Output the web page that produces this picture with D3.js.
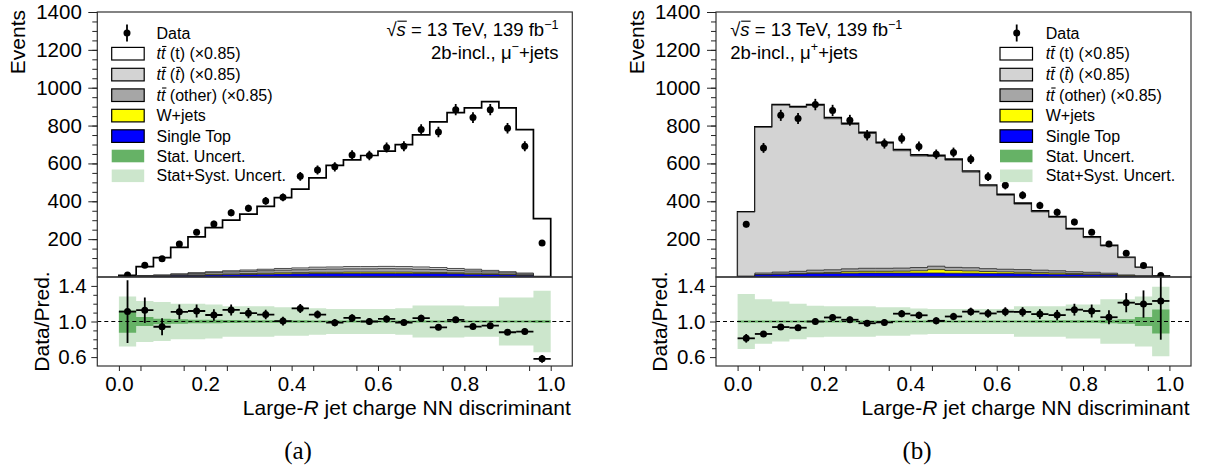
<!DOCTYPE html>
<html>
<head>
<meta charset="utf-8">
<script src="https://cdn.jsdelivr.net/npm/d3@7"></script>
<style>
  html, body { margin: 0; padding: 0; background: #fff; }
  svg text { font-family: "Liberation Sans", Arial, Helvetica, sans-serif; fill: #000; }
  svg text.caption { font-family: "Liberation Serif", "Times New Roman", serif; }
</style>
</head>
<body>
<svg id="chart" width="1206" height="469"></svg>
<script>
// Binning of the large-R jet charge NN discriminant
const binEdges = [0.00, 0.04, 0.08, 0.12, 0.16, 0.20, 0.24, 0.28, 0.32, 0.36, 0.40, 0.44, 0.48,
                  0.52, 0.56, 0.60, 0.64, 0.68, 0.72, 0.76, 0.80, 0.84, 0.88, 0.92, 0.96, 1.00];

const xTickValues = [0.0, 0.2, 0.4, 0.6, 0.8, 1.0];
const eventTickValues = [200, 400, 600, 800, 1000, 1200, 1400];
const ratioTickValues = [0.6, 1.0, 1.4];

// ---- mu- + jets region ----
const dataMuMinus       = [10, 62, 96, 174, 237, 280, 340, 363, 402, 421, 532, 565, 582, 644, 642, 684, 691, 779, 766, 884, 842, 884, 786, 691, 179];
const ttTopMuMinus      = [5, 47, 91, 140, 189, 233, 268, 295, 332, 374, 416, 472, 537, 564, 587, 609, 644, 698, 770, 823, 852, 892, 866, 758, 304];
const ttAntitopMuMinus  = [1, 1, 2, 3, 4, 5, 6, 7, 8, 9, 10, 11, 11, 12, 12, 12, 12, 12, 11, 10, 9, 8, 6, 5, 1];
const ttOtherMuMinus    = [2, 3, 4, 6, 8, 9, 11, 12, 13, 14, 15, 16, 17, 17, 17, 18, 17, 16, 15, 13, 12, 10, 8, 6, 2];
const wjetsMuMinus      = [0, 1, 1, 2, 3, 4, 4, 5, 5, 6, 6, 7, 7, 7, 7, 7, 7, 6, 6, 5, 5, 4, 3, 2, 0];
const singleTopMuMinus  = [1, 3, 4, 6, 8, 10, 12, 13, 15, 16, 17, 18, 18, 19, 19, 19, 19, 19, 18, 17, 15, 13, 11, 8, 1];
const statUncMuMinus    = [0.125, 0.05, 0.03, 0.025, 0.02, 0.02, 0.018, 0.015, 0.015, 0.014, 0.013, 0.012, 0.012, 0.012, 0.012, 0.012, 0.012, 0.012, 0.012, 0.012, 0.012, 0.012, 0.012, 0.012, 0.015];
const totUncMuMinus     = [0.28, 0.23, 0.22, 0.20, 0.20, 0.19, 0.17, 0.17, 0.17, 0.16, 0.16, 0.15, 0.14, 0.14, 0.14, 0.14, 0.15, 0.18, 0.18, 0.18, 0.17, 0.17, 0.27, 0.27, 0.345];

// ---- mu+ + jets region ----
const dataMuPlus        = [279, 682, 854, 837, 911, 880, 828, 749, 705, 732, 690, 648, 658, 622, 530, 485, 432, 378, 342, 290, 237, 175, 126, 61, 8];
const ttTopMuPlus       = [1, 2, 3, 4, 5, 6, 6, 6, 6, 6, 6, 6, 6, 6, 5, 5, 5, 5, 4, 4, 4, 3, 2, 1, 0];
const ttAntitopMuPlus   = [338, 770, 882, 866, 870, 798, 763, 712, 660, 620, 589, 580, 566, 505, 437, 391, 346, 308, 282, 224, 183, 144, 91, 43, 4.5];
const ttOtherMuPlus     = [3, 8, 10, 11, 14, 14, 15, 16, 16, 16, 17, 18, 17, 17, 15, 14, 14, 13, 12, 10, 9, 7, 4, 3, 1];
const wjetsMuPlus       = [0, 1, 2, 3, 4, 5, 8, 9, 9, 10, 12, 18, 14, 12, 10, 9, 8, 7, 6, 5, 4, 3, 2, 1, 0];
const singleTopMuPlus   = [2, 12, 14, 16, 18, 19, 20, 21, 21, 21, 21, 21, 20, 20, 19, 18, 17, 16, 15, 13, 12, 10, 5, 3, 1];
const statUncMuPlus     = [0.012, 0.01, 0.01, 0.01, 0.01, 0.01, 0.01, 0.01, 0.01, 0.01, 0.01, 0.01, 0.01, 0.01, 0.012, 0.012, 0.012, 0.013, 0.013, 0.015, 0.015, 0.02, 0.025, 0.05, 0.135];
const totUncMuPlus      = [0.31, 0.25, 0.225, 0.20, 0.177, 0.17, 0.17, 0.17, 0.16, 0.16, 0.145, 0.14, 0.14, 0.14, 0.14, 0.14, 0.17, 0.17, 0.17, 0.19, 0.19, 0.25, 0.25, 0.28, 0.39];

// Stack order, bottom to top
const stackColors = ["#0000ff", "#ffff00", "#a6a6a6", "#d3d3d3", "#ffffff"];
const statColor = "#66b266";
const totColor = "#cce6cc";

const svg = d3.select("#chart");

// Frame geometry shared by both panels (shifted horizontally for the second one)
const F = { x0: 97.3, x1: 572.3, top: 12, mid: 277, bot: 366 };
const FONT_TICK = 20.5, FONT_TITLE = 21, FONT_LEG = 16, FONT_LABEL = 18.5;

// Draw a text line made of styled segments; returns the text node.
function richText(g, x, y, segs, opts) {
  const t = g.append("text").attr("x", x).attr("y", y)
    .attr("font-size", opts.size)
    .attr("text-anchor", opts.anchor || "start");
  const bars = [];
  let idx = 0;
  segs.forEach(s => {
    const ts = t.append("tspan").text(s.t);
    if (s.it) ts.attr("font-style", "italic");
    if (s.sup) ts.attr("font-size", opts.size * 0.68).attr("dy", -opts.size * 0.38);
    if (s.down) ts.attr("dy", opts.size * 0.38);
    if (s.bar) bars.push({ i: idx, n: s.t.length, ext: s.ext || 0 });
    idx += [...s.t].length;
  });
  const node = t.node();
  bars.forEach(b => {
    const e0 = node.getExtentOfChar(b.i);
    const e1 = node.getExtentOfChar(b.i + b.n - 1);
    const yb = y - opts.size * 0.80;
    g.append("line")
      .attr("x1", e0.x + e0.width * 0.25 - b.ext).attr("x2", e1.x + e1.width + 1)
      .attr("y1", yb).attr("y2", yb)
      .attr("stroke", "#000").attr("stroke-width", 1.1);
  });
  return t;
}

function drawPanel(cfg) {
  const g = svg.append("g").attr("transform", `translate(${cfg.dx},0)`);
  const x = d3.scaleLinear().domain([-0.05, 1.05]).range([F.x0, F.x1]);
  const yMain = d3.scaleLinear().domain([0, 1400]).range([F.mid, F.top]);
  const yRat = d3.scaleLinear().domain([0.5, 1.5]).range([F.bot, F.mid]);

  const nb = cfg.data.length;
  const comps = [cfg.singleTop, cfg.wjets, cfg.ttOther, cfg.ttAntitop, cfg.ttTop];
  const cum = [];
  comps.forEach((c, j) => cum.push(c.map((v, k) => v + (j ? cum[j - 1][k] : 0))));
  const pred = cum[cum.length - 1];

  const clipMain = `clipMain${cfg.id}`, clipRat = `clipRat${cfg.id}`;
  const defs = g.append("defs");
  defs.append("clipPath").attr("id", clipMain).append("rect")
    .attr("x", F.x0).attr("y", F.top).attr("width", F.x1 - F.x0).attr("height", F.mid - F.top);
  defs.append("clipPath").attr("id", clipRat).append("rect")
    .attr("x", F.x0).attr("y", F.mid - 4).attr("width", F.x1 - F.x0).attr("height", F.bot - F.mid + 4);

  // step points: value of bin k held from edge k to edge k+1
  const stepPts = vals => binEdges.map((e, k) => [e, vals[Math.min(k, nb - 1)]]);

  // ---- main panel: stacked histograms, drawn from the cumulative total down ----
  const gm = g.append("g").attr("clip-path", `url(#${clipMain})`);
  const area = d3.area().curve(d3.curveStepAfter)
    .x(d => x(d[0])).y0(yMain(0)).y1(d => yMain(d[1]));
  for (let j = cum.length - 1; j >= 0; j--) {
    gm.append("path").datum(stepPts(cum[j]))
      .attr("d", area)
      .attr("fill", stackColors[j])
      .attr("stroke", j === cum.length - 1 ? "#000" : "#222")
      .attr("stroke-width", j === cum.length - 1 ? 1.7 : 0.8)
      .attr("stroke-linejoin", "miter");
  }
  const centers = cfg.data.map((d, k) => (binEdges[k] + binEdges[k + 1]) / 2);
  // data with Poisson errors
  gm.selectAll("line.err").data(cfg.data).join("line")
    .attr("x1", (d, k) => x(centers[k])).attr("x2", (d, k) => x(centers[k]))
    .attr("y1", d => yMain(d - Math.sqrt(d))).attr("y2", d => yMain(d + Math.sqrt(d)))
    .attr("stroke", "#000").attr("stroke-width", 1.8);
  gm.selectAll("circle.pt").data(cfg.data).join("circle")
    .attr("cx", (d, k) => x(centers[k])).attr("cy", d => yMain(d))
    .attr("r", 3.5).attr("fill", "#000");

  // ---- ratio panel ----
  const gr = g.append("g");
  const grClip = gr.append("g").attr("clip-path", `url(#${clipRat})`);
  const band = d3.area().curve(d3.curveStepAfter)
    .x(d => x(d[0])).y0(d => yRat(1 - d[1])).y1(d => yRat(1 + d[1]));
  grClip.append("path").datum(stepPts(cfg.totUnc)).attr("d", band).attr("fill", totColor);
  grClip.append("path").datum(stepPts(cfg.statUnc)).attr("d", band).attr("fill", statColor);
  grClip.append("line").attr("x1", F.x0).attr("x2", F.x1).attr("y1", yRat(1)).attr("y2", yRat(1))
    .attr("stroke", "#000").attr("stroke-width", 1.2).attr("stroke-dasharray", "4,3");
  const ratio = cfg.data.map((d, k) => d / pred[k]);
  const rErr = cfg.data.map((d, k) => Math.sqrt(d) / pred[k]);
  grClip.selectAll("line.xe").data(ratio).join("line")
    .attr("x1", (r, k) => x(binEdges[k])).attr("x2", (r, k) => x(binEdges[k + 1]))
    .attr("y1", r => yRat(r)).attr("y2", r => yRat(r))
    .attr("stroke", "#000").attr("stroke-width", 1.8);
  grClip.selectAll("line.ye").data(ratio).join("line")
    .attr("x1", (r, k) => x(centers[k])).attr("x2", (r, k) => x(centers[k]))
    .attr("y1", (r, k) => yRat(r - rErr[k])).attr("y2", (r, k) => yRat(r + rErr[k]))
    .attr("stroke", "#000").attr("stroke-width", 1.8);
  grClip.selectAll("circle.rp").data(ratio).join("circle")
    .attr("cx", (r, k) => x(centers[k])).attr("cy", r => yRat(r))
    .attr("r", 3.5).attr("fill", "#000");

  // ---- frames ----
  [[F.top, F.mid], [F.mid, F.bot]].forEach(([a, b]) => {
    g.append("rect").attr("x", F.x0).attr("y", a).attr("width", F.x1 - F.x0).attr("height", b - a)
      .attr("fill", "none").attr("stroke", "#333").attr("stroke-width", 1.2);
  });

  // ---- axes ----
  const styleAxis = sel => {
    sel.attr("font-family", null).attr("font-size", null);
    sel.select(".domain").remove();
    sel.selectAll(".tick line").attr("stroke", "#222").attr("stroke-width", 1);
  };
  // events axis: major ticks with labels, minor every 50
  g.append("g").attr("transform", `translate(${F.x0},0)`)
    .call(d3.axisLeft(yMain).tickValues(d3.range(50, 1400, 50)).tickSize(5).tickFormat(""))
    .call(styleAxis);
  g.append("g").attr("transform", `translate(${F.x0},0)`)
    .call(d3.axisLeft(yMain).tickValues(eventTickValues).tickSize(9).tickPadding(6.5).tickFormat(d3.format("d")))
    .call(styleAxis)
    .selectAll("text").attr("font-size", FONT_TICK);
  // ratio axis
  g.append("g").attr("transform", `translate(${F.x0},0)`)
    .call(d3.axisLeft(yRat).tickValues([0.7, 0.8, 0.9, 1.1, 1.2, 1.3]).tickSize(4).tickFormat(""))
    .call(styleAxis);
  g.append("g").attr("transform", `translate(${F.x0},0)`)
    .call(d3.axisLeft(yRat).tickValues(ratioTickValues).tickSize(6).tickPadding(4.6).tickFormat(d3.format(".1f")))
    .call(styleAxis)
    .selectAll("text").attr("font-size", FONT_TICK);
  // x axis below ratio panel
  g.append("g").attr("transform", `translate(0,${F.bot})`)
    .call(d3.axisBottom(x).tickValues(d3.range(0.05, 1.0, 0.1)).tickSize(5).tickFormat(""))
    .call(styleAxis);
  g.append("g").attr("transform", `translate(0,${F.bot})`)
    .call(d3.axisBottom(x).tickValues(xTickValues).tickSize(5).tickPadding(5.4).tickFormat(d3.format(".1f")))
    .call(styleAxis)
    .selectAll("text").attr("font-size", FONT_TICK);

  // ---- axis titles ----
  g.append("text").attr("transform", `translate(25,10) rotate(-90)`)
    .attr("text-anchor", "end").attr("font-size", FONT_TITLE).text("Events");
  g.append("text").attr("transform", `translate(48.5,${(F.mid + F.bot) / 2}) rotate(-90)`)
    .attr("text-anchor", "middle").attr("font-size", FONT_TITLE).text("Data/Pred.");
  richText(g, F.x1 - 1.5, 415, [
    { t: "Large-" }, { t: "R", it: true }, { t: " jet charge NN discriminant" }
  ], { size: FONT_TITLE, anchor: "end" });

  // ---- region labels ----
  richText(g, cfg.labelX, 36, [
    { t: "√" }, { t: "s", it: true, bar: true, ext: 1.5 }, { t: " = 13 TeV, 139 fb" }, { t: "−1", sup: true }
  ], { size: FONT_LABEL, anchor: cfg.labelAnchor });
  richText(g, cfg.labelX, 58.5, [
    { t: "2b-incl., μ" }, { t: cfg.muCharge, sup: true }, { t: "+jets", down: true }
  ], { size: FONT_LABEL, anchor: cfg.labelAnchor });

  // ---- legend ----
  const L = cfg.legend;
  const rowY = [33, 53.7, 74.6, 95.2, 115.6, 136.1, 156, 175.8];
  // data marker
  g.append("line").attr("x1", L.mx).attr("x2", L.mx).attr("y1", rowY[0] - 8.5).attr("y2", rowY[0] + 8.5)
    .attr("stroke", "#000").attr("stroke-width", 1.8);
  g.append("circle").attr("cx", L.mx).attr("cy", rowY[0]).attr("r", 3.5).attr("fill", "#000");
  richText(g, L.tx, rowY[0] + 5.6, [{ t: "Data" }], { size: FONT_LEG });
  const entries = [
    { fill: stackColors[4], stroke: true, segs: [{ t: "t", it: true }, { t: "t", it: true, bar: true }, { t: " (t) (×0.85)" }] },
    { fill: stackColors[3], stroke: true, segs: [{ t: "t", it: true }, { t: "t", it: true, bar: true }, { t: " (" }, { t: "t", it: true, bar: true }, { t: ") (×0.85)" }] },
    { fill: stackColors[2], stroke: true, segs: [{ t: "t", it: true }, { t: "t", it: true, bar: true }, { t: " (other) (×0.85)" }] },
    { fill: stackColors[1], stroke: true, segs: [{ t: "W+jets" }] },
    { fill: stackColors[0], stroke: true, segs: [{ t: "Single Top" }] },
    { fill: statColor, stroke: false, segs: [{ t: "Stat. Uncert." }] },
    { fill: totColor, stroke: false, segs: [{ t: "Stat+Syst. Uncert." }] }
  ];
  entries.forEach((e, i) => {
    const cy = rowY[i + 1];
    g.append("rect").attr("x", L.bx).attr("y", cy - 6.3).attr("width", 32.5).attr("height", 12.6)
      .attr("fill", e.fill)
      .attr("stroke", e.stroke ? "#000" : "none").attr("stroke-width", 1.2);
    richText(g, L.tx, cy + 5.6, e.segs, { size: FONT_LEG });
  });

  // ---- caption ----
  g.append("text").attr("class", "caption").attr("x", cfg.captionX).attr("y", 459)
    .attr("text-anchor", "middle").attr("font-size", 25).text(cfg.caption);
}

drawPanel({
  id: "a", dx: 0,
  data: dataMuMinus, ttTop: ttTopMuMinus, ttAntitop: ttAntitopMuMinus, ttOther: ttOtherMuMinus,
  wjets: wjetsMuMinus, singleTop: singleTopMuMinus, statUnc: statUncMuMinus, totUnc: totUncMuMinus,
  labelX: 558.5, labelAnchor: "end", muCharge: "−",
  legend: { mx: 127, bx: 111.7, tx: 156.5 },
  captionX: 298, caption: "(a)"
});
drawPanel({
  id: "b", dx: 618.7,
  data: dataMuPlus, ttTop: ttTopMuPlus, ttAntitop: ttAntitopMuPlus, ttOther: ttOtherMuPlus,
  wjets: wjetsMuPlus, singleTop: singleTopMuPlus, statUnc: statUncMuPlus, totUnc: totUncMuPlus,
  labelX: 111.5, labelAnchor: "start", muCharge: "+",
  legend: { mx: 1016.7 - 618.7, bx: 1000 - 618.7, tx: 1045.7 - 618.7 },
  captionX: 917 - 618.7, caption: "(b)"
});
</script>
</body>
</html>
